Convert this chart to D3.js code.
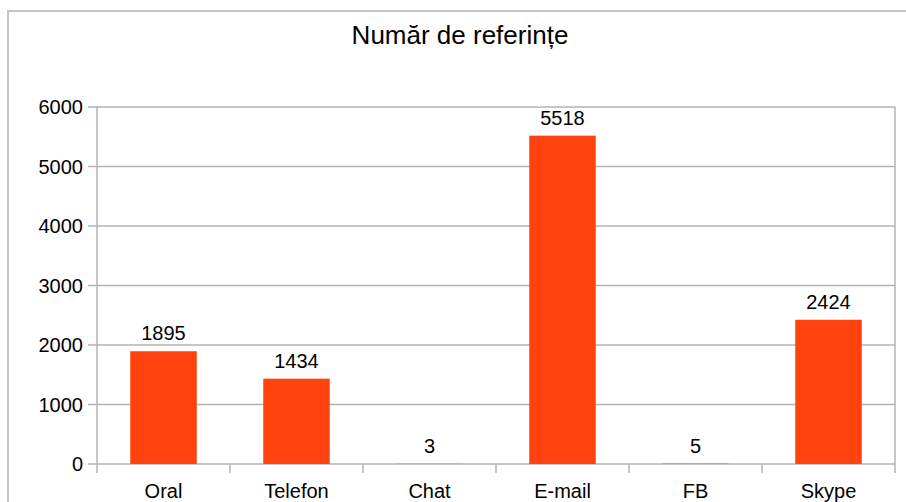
<!DOCTYPE html>
<html>
<head>
<meta charset="utf-8">
<script src="https://cdn.jsdelivr.net/npm/d3@7"></script>
<style>
  body { margin: 0; background: #fff; }
  text { font-family: "Liberation Sans", Arial, sans-serif; fill: #000; }
</style>
</head>
<body>
<div id="chart"></div>
<script>
//data
var categories = ["Oral", "Telefon", "Chat", "E-mail", "FB", "Skype"];
var values = [1895, 1434, 3, 5518, 5, 2424];
var yTicks = [0, 1000, 2000, 3000, 4000, 5000, 6000];
var title = "Număr de referințe";

var W = 906, H = 502;
var plot = {left: 97, right: 895, top: 107, bottom: 464};
var barcolor = "#ff420e";
var gridcolor = "#b3b3b3";

var svg = d3.select("#chart")
	.append("svg")
	.attr("width", W)
	.attr("height", H);

//outer chart frame (cut at right and bottom)
svg.append("rect")
	.attr("x", 8).attr("y", 11)
	.attr("width", 940).attr("height", 540)
	.attr("fill", "none")
	.attr("stroke", "#c6c6c6")
	.attr("stroke-width", 2);

svg.append("text")
	.attr("x", 460).attr("y", 44)
	.attr("text-anchor", "middle")
	.style("font-size", "26px")
	.text(title);

var x = d3.scaleBand()
	.domain(categories)
	.range([plot.left, plot.right])
	.paddingInner(0.5)
	.paddingOuter(0.25);

var y = d3.scaleLinear()
	.domain([0, 6000])
	.range([plot.bottom, plot.top]);

//horizontal gridlines
svg.append("g")
	.selectAll("line")
	.data(yTicks).enter()
	.append("line")
		.attr("x1", plot.left - 9)
		.attr("x2", plot.right)
		.attr("y1", function(d) { return y(d); })
		.attr("y2", function(d) { return y(d); })
		.attr("stroke", gridcolor)
		.attr("stroke-width", 1.5);

//y axis labels
svg.append("g")
	.selectAll("text")
	.data(yTicks).enter()
	.append("text")
		.attr("x", plot.left - 14)
		.attr("y", function(d) { return y(d); })
		.attr("dy", "0.36em")
		.attr("text-anchor", "end")
		.style("font-size", "20px")
		.text(function(d) { return d; });

//left axis line and right plot border
svg.append("line")
	.attr("x1", plot.left).attr("x2", plot.left)
	.attr("y1", plot.top).attr("y2", plot.bottom)
	.attr("stroke", gridcolor).attr("stroke-width", 1.5);
svg.append("line")
	.attr("x1", plot.right).attr("x2", plot.right)
	.attr("y1", plot.top).attr("y2", plot.bottom + 9)
	.attr("stroke", gridcolor).attr("stroke-width", 1.5);

//category ticks below baseline
var step = x.step();
svg.append("g")
	.selectAll("line")
	.data(categories).enter()
	.append("line")
		.attr("x1", function(d) { return x(d) + x.bandwidth() / 2 - step / 2; })
		.attr("x2", function(d) { return x(d) + x.bandwidth() / 2 - step / 2; })
		.attr("y1", plot.bottom)
		.attr("y2", plot.bottom + 9)
		.attr("stroke", gridcolor).attr("stroke-width", 1.5);

//bars
svg.append("g")
	.selectAll("rect")
	.data(values).enter()
	.append("rect")
		.attr("x", function(d, i) { return x(categories[i]); })
		.attr("width", x.bandwidth())
		.attr("y", function(d) { return y(d); })
		.attr("height", function(d) { return plot.bottom - y(d); })
		.attr("fill", barcolor);

//value labels
svg.append("g")
	.selectAll("text")
	.data(values).enter()
	.append("text")
		.attr("x", function(d, i) { return x(categories[i]) + x.bandwidth() / 2; })
		.attr("y", function(d) { return y(d) - 11; })
		.attr("text-anchor", "middle")
		.style("font-size", "20px")
		.text(function(d) { return d; });

//category labels
svg.append("g")
	.selectAll("text")
	.data(categories).enter()
	.append("text")
		.attr("x", function(d) { return x(d) + x.bandwidth() / 2; })
		.attr("y", 498)
		.attr("text-anchor", "middle")
		.style("font-size", "20px")
		.text(function(d) { return d; });
</script>
</body>
</html>
